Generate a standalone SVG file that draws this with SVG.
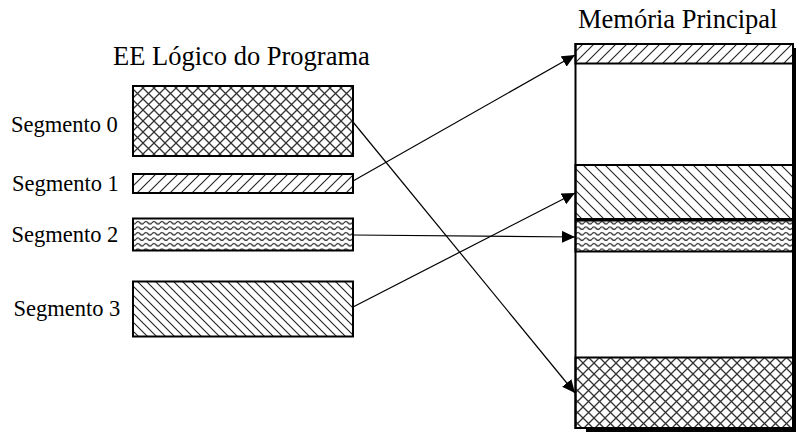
<svg xmlns="http://www.w3.org/2000/svg" width="796" height="437" viewBox="0 0 796 437">
<defs>
<pattern id="cross" patternUnits="userSpaceOnUse" width="11" height="11">
<path d="M0,0 L11,11 M11,0 L0,11" stroke="#333" stroke-width="1.3" fill="none"/>
</pattern>
<pattern id="fwd" patternUnits="userSpaceOnUse" width="11" height="11">
<path d="M-1,12 L12,-1 M-1,1 L1,-1 M10,12 L12,10" stroke="#222" stroke-width="1.1" fill="none"/>
</pattern>
<pattern id="back" patternUnits="userSpaceOnUse" width="9" height="9">
<path d="M-1,-1 L10,10 M-1,8 L1,10 M8,-1 L10,1" stroke="#222" stroke-width="1.1" fill="none"/>
</pattern>
<pattern id="back2" patternUnits="userSpaceOnUse" width="11" height="11">
<path d="M-1,-1 L12,12 M-1,10 L1,12 M10,-1 L12,1" stroke="#222" stroke-width="1.1" fill="none"/>
</pattern>
<pattern id="wave" patternUnits="userSpaceOnUse" width="8" height="5.5">
<path d="M0,2.75 Q2,0.25 4,2.75 T8,2.75" stroke="#222" stroke-width="1.2" fill="none"/>
</pattern>
<marker id="arr" markerWidth="14" markerHeight="12" refX="13" refY="6" orient="auto" markerUnits="userSpaceOnUse">
<path d="M0,0 L13,6 L0,12 Z" fill="#000"/>
</marker>
</defs>
<style>
.lbl{font-size:22.5px}
.ttl{font-size:26.5px}
.blk{stroke:#000;stroke-width:2}
.conn line{stroke:#000;stroke-width:1.2;marker-end:url(#arr)}
</style>
<rect width="796" height="437" fill="#fff"/>
<g font-family="Liberation Serif, Times New Roman, serif" fill="#000">
<text class="ttl" x="113" y="65">EE Lógico do Programa</text>
<g id="seg0"><rect class="blk" x="133" y="86" width="220" height="70" fill="url(#cross)"/><text class="lbl" x="11" y="131.5">Segmento 0</text></g>
<g id="seg1"><rect class="blk" x="133" y="174" width="220" height="19" fill="url(#fwd)"/><text class="lbl" x="12" y="190.5">Segmento 1</text></g>
<g id="seg2"><rect class="blk" x="133" y="218.5" width="220" height="32" fill="url(#wave)"/><text class="lbl" x="11.5" y="241.5">Segmento 2</text></g>
<g id="seg3"><rect class="blk" x="133" y="281.5" width="220" height="55" fill="url(#back)"/><text class="lbl" x="13.5" y="316">Segmento 3</text></g>
<g id="memoria">
<text class="ttl" x="578" y="28">Memória Principal</text>
<rect x="586" y="427" width="210" height="5" fill="#000"/>
<rect x="792" y="48" width="4" height="384" fill="#000"/>
<rect class="blk" x="575.5" y="44" width="217.5" height="384" fill="#fff"/>
<rect class="blk" x="575.5" y="44" width="217.5" height="19.5" fill="url(#fwd)"/>
<rect class="blk" x="575.5" y="165" width="217.5" height="54" fill="url(#back2)"/>
<rect class="blk" x="575.5" y="220.5" width="217.5" height="31" fill="url(#wave)"/>
<rect class="blk" x="575.5" y="357.5" width="217.5" height="70.5" fill="url(#cross)"/>
</g>
</g>
<g class="conn" id="connectors">
<line x1="353" y1="122" x2="575" y2="393"/>
<line x1="353" y1="181" x2="575" y2="55"/>
<line x1="353" y1="235" x2="575" y2="237"/>
<line x1="353" y1="307" x2="575" y2="193"/>
</g>
</svg>
